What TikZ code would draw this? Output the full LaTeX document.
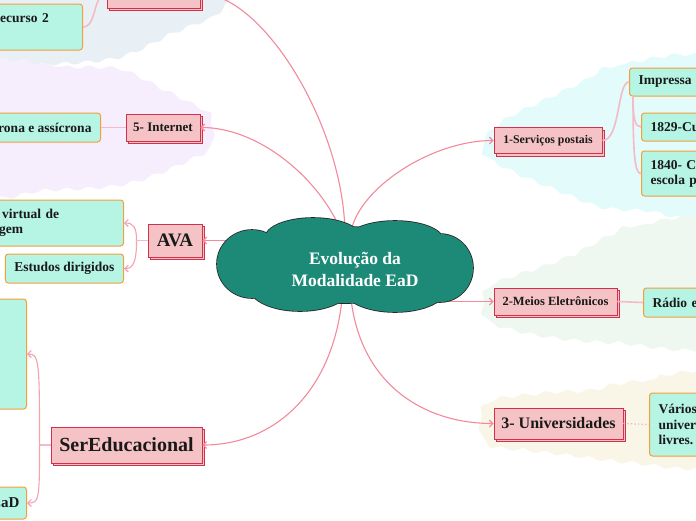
\documentclass[tikz,border=0pt]{standalone}
\usepackage{fontspec}
\setmainfont{Liberation Serif}
\usetikzlibrary{shapes.geometric,shadows,arrows.meta,decorations.pathmorphing,calc}

\definecolor{pinkfill}{HTML}{F5C3C6}
\definecolor{pinkdraw}{HTML}{D3304C}
\definecolor{leaffill}{HTML}{B6F4E3}
\definecolor{leafdraw}{HTML}{F2A03A}
\definecolor{conn}{HTML}{F28A9C}
\definecolor{lconn}{HTML}{F6B9C6}
\definecolor{cloudfill}{HTML}{1D8A78}
\definecolor{bgA}{HTML}{E8F0F6}
\definecolor{bgB}{HTML}{F6EEFC}
\definecolor{bgC}{HTML}{E3FBFB}
\definecolor{bgD}{HTML}{EEF8F1}
\definecolor{bgE}{HTML}{FAF6E7}

\begin{document}
\begin{tikzpicture}[x=1pt,y=-1pt,
  topic/.style={draw=pinkdraw, fill=pinkfill, line width=0.9pt, inner sep=0pt,
    text=black!90, copy shadow={shadow xshift=2.5pt, shadow yshift=-2.5pt}},
  leaf/.style={draw=leafdraw, fill=leaffill, rounded corners=3pt, line width=1pt,
    inner xsep=9pt, inner ysep=0pt, text=black!90,
    font=\bfseries\fontsize{13.5}{15.5}\selectfont},
  rleaf/.style={leaf, anchor=west, text width=90pt, align=left},
  mainconn/.style={draw=conn, line width=1.1pt, -{Straight Barb[length=3.5pt,width=7pt]}},
  subconn/.style={draw=lconn, line width=1.6pt},
  subarrow/.style={draw=conn!80, line width=1.1pt, -{Straight Barb[length=3.5pt,width=7pt]}},
  blob/.style={decorate, decoration={snake, amplitude=1.6pt, segment length=22pt}}
]
\useasboundingbox (0,0) rectangle (696,520);
\clip (0,0) rectangle (696,520);
\fill[white] (0,0) rectangle (696,520);

% background regions
\fill[bgA, blob] plot[smooth cycle, tension=0.5] coordinates {(-20,-20) (215,-20) (212,12) (190,22) (165,32) (140,45) (115,55) (80,60) (40,62) (-20,62)};
\fill[bgB, blob] plot[smooth cycle, tension=0.5] coordinates {(-20,66) (60,67) (110,68) (130,75) (155,88) (183,102) (205,115) (208,135) (205,150) (185,160) (160,171) (133,181) (100,187) (40,190) (-20,190)};
\fill[bgC, blob] plot[smooth cycle, tension=0.5] coordinates {(720,62) (620,65) (590,80) (548,100) (513,117) (490,137) (491,155) (520,172) (548,184) (580,197) (607,207) (650,210) (720,210)};
\fill[bgD, blob] plot[smooth cycle, tension=0.5] coordinates {(720,222) (640,225) (620,232) (600,242) (580,253) (547,266) (513,277) (491,288) (490,318) (520,330) (565,338) (620,342) (720,342)};
\fill[bgE, blob] plot[smooth cycle, tension=0.5] coordinates {(720,376) (650,380) (620,384) (597,390) (547,393) (491,403) (490,443) (530,450) (580,456) (630,462) (720,464)};

% invisible core of the central cloud (for connector anchors)
\node[ellipse, minimum width=220pt, minimum height=68pt, inner sep=0pt] (c) at (345,265) {};

% main topics
\node[topic, minimum width=108pt, minimum height=26pt, font=\bfseries\fontsize{11.8}{13}\selectfont] (serv) at (548,140.5) {1-Serviços postais};
\node[topic, minimum width=123pt, minimum height=27pt, font=\bfseries\fontsize{12.5}{14}\selectfont] (meios) at (555.5,301.5) {2-Meios Eletrônicos};
\node[topic, minimum width=129pt, minimum height=31pt, font=\bfseries\fontsize{16}{18}\selectfont] (univ) at (558.5,423.5) {3- Universidades};
\node[topic, minimum width=74pt, minimum height=27pt, font=\bfseries\fontsize{13}{15}\selectfont] (inet) at (163,127.5) {5- Internet};
\node[topic, minimum width=54pt, minimum height=33pt, font=\bfseries\fontsize{19}{21}\selectfont] (ava) at (175,240.5) {AVA};
\node[topic, minimum width=151pt, minimum height=36pt, font=\bfseries\fontsize{20}{22}\selectfont] (sered) at (126.5,445) {SerEducacional};
\node[topic, minimum width=93pt, minimum height=28pt] (topn) at (153.5,-6) {};

% left leaves
\node[leaf, anchor=east, text width=83pt, align=left, minimum height=46pt] (rec) at (83,27) {Recurso 2\\[-2pt]\strut};
\node[leaf, anchor=east, minimum height=29pt] (linet) at (101,127.5) {Síncrona e assícrona};
\node[leaf, anchor=east, text width=173pt, align=left, minimum height=46pt] (avl1) at (124,223) {Ambiente virtual de\\aprendizagem};
\node[leaf, anchor=east, minimum height=29pt] (avl2) at (124,268.5) {Estudos dirigidos};
\node[leaf, anchor=east, minimum width=90pt, minimum height=110pt] (s1) at (27,354) {};
\node[leaf, anchor=east, minimum height=32pt, inner xsep=7pt, font=\bfseries\fontsize{15}{17}\selectfont] (s2) at (27,503) {EaD};

% right leaves
\node[rleaf, minimum height=28pt] (imp) at (629,82) {Impressa};
\node[rleaf, minimum height=28pt] (c1829) at (641,127) {1829-Curso};
\node[rleaf, minimum height=45pt] (c1840) at (641,173.5) {1840- Criação\\escola por};
\node[rleaf, minimum height=29pt] (radio) at (643,302.5) {Rádio e TV};
\node[rleaf, minimum height=63pt] (varios) at (649,424.5) {Vários cursos\\universidades\\livres.};

% main connectors (drawn under the cloud)
\draw[mainconn] (c.80) .. controls +(10,-45) and +(-60,0) .. (serv.west);
\draw[mainconn] (c.90) .. controls +(-3,-110) and +(60,0) .. (topn.east);
\draw[mainconn] (c.97) .. controls +(-20,-50) and +(60,0) .. (inet.east);
\draw[mainconn] ($(c.west |- ava.east)+(8,0)$) -- (ava.east);
\draw[mainconn] (c.265) .. controls +(-10,95) and +(70,0) .. (sered.east);
\draw[mainconn] (c.280) .. controls +(10,85) and +(-70,0) .. (univ.west);
\draw[mainconn] ($(c.east |- meios.west)+(-18,0)$) -- (meios.west);

% central cloud: union of ellipses with outer outline
\foreach \cx/\cy/\rx/\ry in {345/265/105/38, 313/238/48/20, 395/240/48/19, 252/264/35/34,
  440/268/33/34, 300/288/50/23, 395/288/52/24}
  \draw[black!85, line width=1.6pt] (\cx,\cy) ellipse [x radius=\rx pt, y radius=\ry pt];
\foreach \cx/\cy/\rx/\ry in {345/265/105/38, 313/238/48/20, 395/240/48/19, 252/264/35/34,
  440/268/33/34, 300/288/50/23, 395/288/52/24}
  \fill[cloudfill] (\cx,\cy) ellipse [x radius=\rx pt, y radius=\ry pt];
\node[text=white, align=center, font=\bfseries\fontsize{17.5}{22}\selectfont] (ctext) at ($(c.center)+(10,4)$) {Evolução da\\Modalidade EaD};

% sub connectors
\draw[subconn] (inet.west) -- (linet.east);
\draw[subconn] (meios.east) -- (radio.west);
\draw[subconn, dotted, line width=1.2pt] (univ.east) -- (varios.west);
\draw[subconn] (serv.east) .. controls +(18,0) and +(-12,0) .. (imp.west);
\draw[subconn] ($(imp.south west)+(4,0)$) .. controls +(0,22) and +(-6,0) .. (c1829.west);
\draw[subconn] ($(imp.south west)+(4,0)$) .. controls +(0,60) and +(-6,0) .. (c1840.west);
\draw[subconn] (rec.east) .. controls +(14,0) and +(-14,0) .. (topn.west);

\draw[subconn] (ava.west) -- ++(-11,0) coordinate (avb);
\draw[subarrow] (avb) .. controls +(0,-14) and +(9,0) .. (avl1.east);
\draw[subarrow] (avb) .. controls +(0,22) and +(9,0) .. (avl2.east);

\draw[subconn] (sered.west) -- ++(-11,0) coordinate (sb);
\draw[subarrow] (sb) .. controls +(0,-85) and +(12,0) .. (s1.east);
\draw[subarrow] (sb) .. controls +(0,55) and +(12,0) .. (s2.east);
\end{tikzpicture}
\end{document}
